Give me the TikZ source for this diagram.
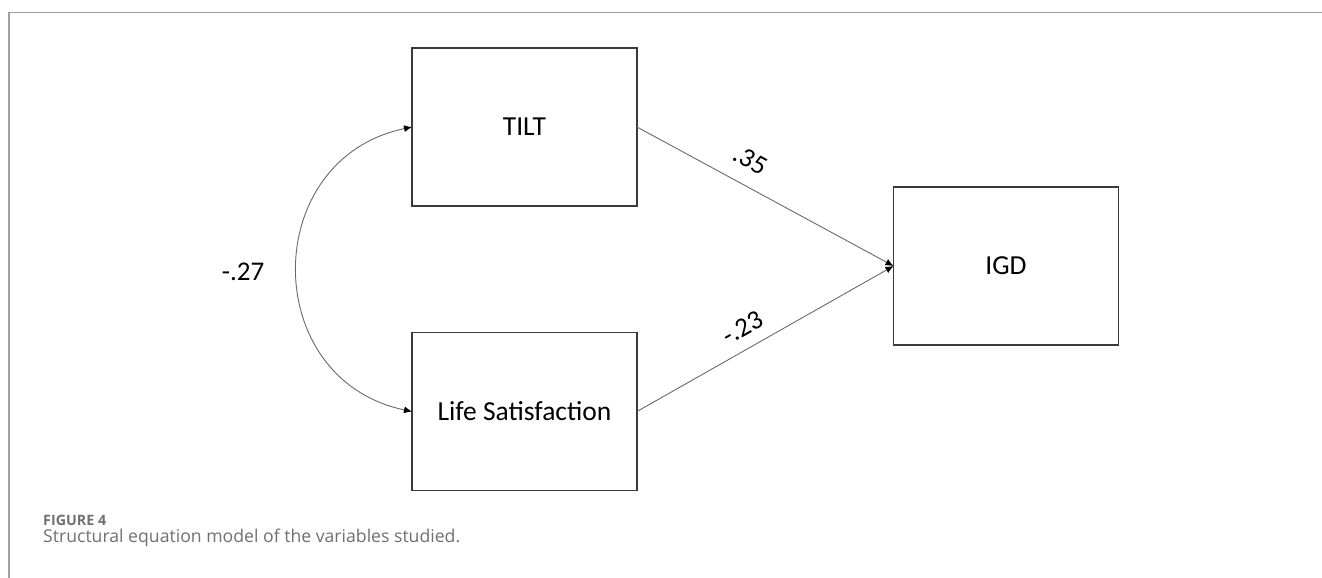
\documentclass[tikz,border=0pt]{standalone}
\usepackage{fontspec}
\usepackage{graphicx}
\setmainfont{Carlito}
\newfontfamily\capfont{Open Sans}
\usetikzlibrary{arrows.meta}
\definecolor{framegray}{HTML}{A0A0A0}
\definecolor{boxgray}{HTML}{3A3A3A}
\definecolor{linegray}{HTML}{6A6A6A}
\definecolor{capgray}{HTML}{707070}
\tikzset{
  varbox/.style={draw=boxgray, line width=1.8pt, minimum width=225pt, minimum height=158pt, outer sep=0pt, inner sep=0pt, font=\fontsize{27.5}{30}\selectfont},
  pathline/.style={draw=linegray, line width=0.9pt, -{Latex[length=8pt,width=7pt,fill=black,color=black]}},
  bipathline/.style={draw=linegray, line width=0.9pt, {Latex[length=8pt,width=7pt,fill=black,color=black]}-{Latex[length=8pt,width=7pt,fill=black,color=black]}},
  coef/.style={font=\fontsize{27}{30}\selectfont, inner sep=0pt},
  frameline/.style={draw=framegray, line width=1.6pt},
  figlabel/.style={anchor=base west, inner sep=0pt, text=capgray, font=\fontsize{14pt}{16pt}\capfont\bfseries},
  captext/.style={anchor=base west, inner sep=0pt, text=capgray, font=\fontsize{17.6pt}{20pt}\capfont}
}
\begin{document}
\begin{tikzpicture}[x=1pt,y=-1pt]
\useasboundingbox[fill=white] (0,0) rectangle (1322,578);
\coordinate (fc) at (9,12.5);
\coordinate (fr) at (1322,12.5);
\coordinate (fb) at (9,578);
\draw[frameline] (fb) -- (fc) -- (fr);
\node[varbox] (tilt) at (524.5,127) {TILT};
\node[varbox] (ls) at (524.5,411.5) {Life Satisfaction};
\node[varbox] (igd) at (1006,266) {IGD};
\draw[pathline] (tilt.east) -- (igd.west);
\draw[pathline] (ls.east) -- (igd.west);
\draw[bipathline] (tilt.west) .. controls +(-153,32) and +(-153,-32) .. (ls.west);
\node[coef] (c27) at (243,272) {-.27};
\node[coef, rotate=-28.7] (c35) at (750.5,160) {.35};
\node[coef, rotate=29.4] (c23) at (743,328) {-.23};
\node[figlabel] (fig) at (43,525.5) {\resizebox{63pt}{!}{FIGURE 4}};
\node[captext] (cap) at (43,542.5) {\resizebox{417pt}{!}{Structural equation model of the variables studied.}};
\end{tikzpicture}
\end{document}
